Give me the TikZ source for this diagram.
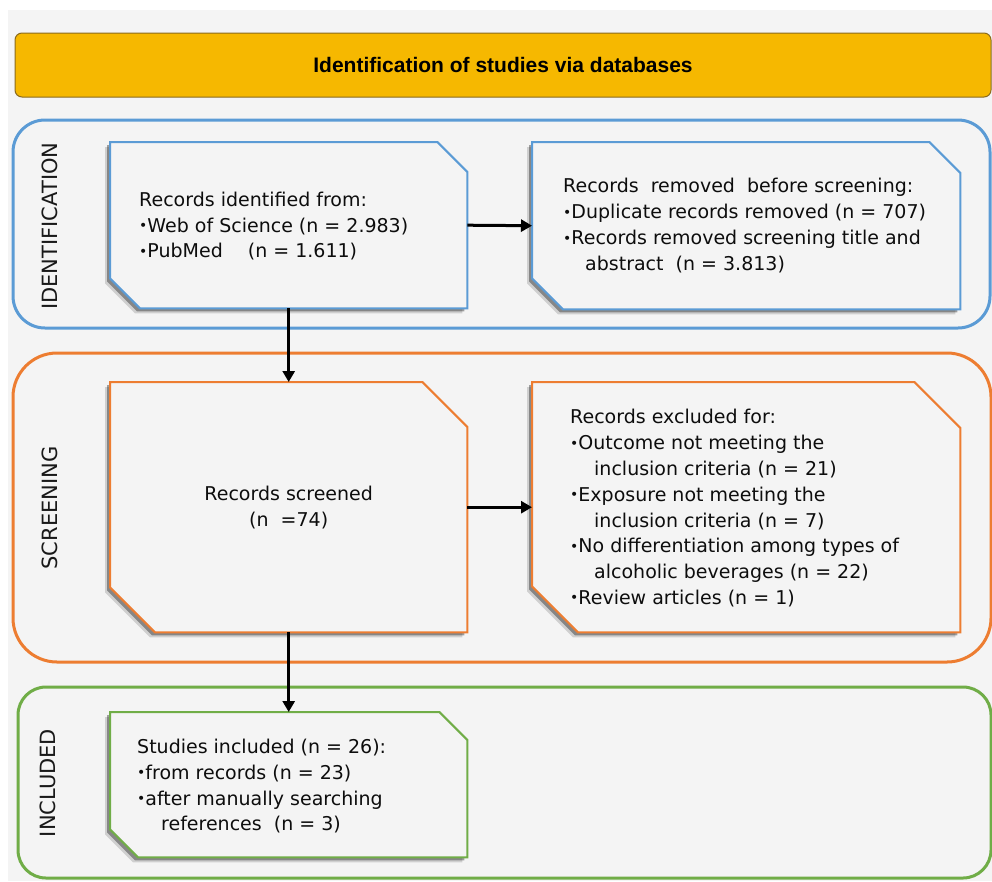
\documentclass[tikz,border=0pt]{standalone}
\usepackage{fontspec}
\setmainfont{DejaVu Sans}
\newfontfamily\titlefont{Liberation Sans}
\usetikzlibrary{arrows.meta}
\definecolor{bgray}{HTML}{F4F4F4}
\definecolor{cblue}{HTML}{5B9BD5}
\definecolor{corange}{HTML}{ED7D31}
\definecolor{cgreen}{HTML}{70AD47}
\definecolor{cyellow}{HTML}{F6B800}
\definecolor{cybord}{HTML}{8A6A1E}
\pgfdeclarelayer{bgA}\pgfdeclarelayer{bgB}\pgfsetlayers{bgA,bgB,main}
\newcommand\bl{{\fontsize{14}{14}\selectfont\raisebox{0.2ex}{•}}}
\newcommand\champ[4]{([xshift=#3pt,yshift=#4pt]#1.north west) -- ([xshift={#3pt-#2pt},yshift=#4pt]#1.north east) -- ([xshift=#3pt,yshift={#4pt-#2pt}]#1.north east) -- ([xshift=#3pt,yshift=#4pt]#1.south east) -- ([xshift={#3pt+#2pt},yshift=#4pt]#1.south west) -- ([xshift=#3pt,yshift={#4pt+#2pt}]#1.south west) -- cycle}
\newcommand\chambox[3]{%
  \begin{pgfonlayer}{bgB}
    \fill[black, opacity=0.15] \champ{#1}{#3}{-5}{-5};
    \fill[black, opacity=0.35] \champ{#1}{#3}{-3}{-3};
    \draw[#2, fill=bgray, line width=2pt] \champ{#1}{#3}{0}{0};
  \end{pgfonlayer}}
\tikzset{
  boxn/.style={rectangle, inner sep=0pt, draw=none, anchor=north west},
  txt/.style={align=left, inner sep=0pt, anchor=west, text=black!95, font=\fontsize{19}{25.8}\selectfont},
  phase/.style={rotate=90, inner sep=0pt, text=black!90, font=\fontsize{21}{21}\selectfont},
  arr/.style={line width=3pt, -{Triangle[length=11pt,width=12pt]}},
}
\begin{document}
\begin{tikzpicture}[x=1pt,y=-1pt]
\useasboundingbox (0,0) rectangle (992,881);
\begin{pgfonlayer}{bgA}
  \fill[bgray] (8,10) rectangle (992,881);
  \draw[cblue, line width=3pt, rounded corners=32pt] (13,120) rectangle (990,328);
  \draw[corange, line width=3pt, rounded corners=44pt] (13,353) rectangle (991,662);
  \draw[cgreen, line width=3pt, rounded corners=28pt] (18,687) rectangle (991,878);
\end{pgfonlayer}

\node[draw=cybord, line width=1pt, fill=cyellow, rounded corners=7pt, minimum width=976pt, minimum height=64pt, inner sep=0pt,
  font=\titlefont\bfseries\fontsize{21}{25}\selectfont] (title) at (503,65) {Identification of studies via databases};

\node[phase] (lid) at (50,226) {IDENTIFICATION};
\node[phase] (lsc) at (50,508) {SCREENING};
\node[phase] (lin) at (48,783) {INCLUDED};

% boxes
\node[boxn, minimum width=357pt, minimum height=166pt] (b1) at (110,142) {};
\node[boxn, minimum width=428pt, minimum height=167pt] (b2) at (532,142) {};
\node[boxn, minimum width=357pt, minimum height=250pt] (s1) at (110,382) {};
\node[boxn, minimum width=428pt, minimum height=250pt] (s2) at (532,382) {};
\node[boxn, minimum width=357pt, minimum height=145pt] (g1) at (110,712) {};
\chambox{b1}{cblue}{30}
\chambox{b2}{cblue}{31}
\chambox{s1}{corange}{45}
\chambox{s2}{corange}{46}
\chambox{g1}{cgreen}{28}

\node[txt] (b1t) at ([xshift=29pt,yshift=-1pt]b1.west) {Records identified from:\\
\bl Web of Science (n = 2.983)\\
\bl PubMed\quad\ (n = 1.611)};
\node[txt] (b2t) at ([xshift=31pt]b2.west) {Records\ \ removed\ \ before screening:\\
\bl Duplicate records removed (n = 707)\\
\bl Records removed screening title and\\
\hspace*{22pt}abstract\ \ (n = 3.813)};
\node[txt, align=center, anchor=center] (s1t) at (s1.center) {Records screened\\(n\ \ =74)};
\node[txt] (s2t) at ([xshift=38pt,yshift=-1pt]s2.west) {Records excluded for:\\
\bl Outcome not meeting the\\
\hspace*{24pt}inclusion criteria (n = 21)\\
\bl Exposure not meeting the\\
\hspace*{24pt}inclusion criteria (n = 7)\\
\bl No differentiation among types of\\
\hspace*{24pt}alcoholic beverages (n = 22)\\
\bl Review articles (n = 1)};
\node[txt] (g1t) at ([xshift=27pt,yshift=-1.5pt]g1.west) {Studies included (n = 26):\\
\bl from records (n = 23)\\
\bl after manually searching\\
\hspace*{24pt}references\ \ (n = 3)};

\draw[arr] (b1.east) -- (b2.west);
\draw[arr] (s1.east) -- (s2.west);
\draw[arr] (b1.south) -- (s1.north);
\draw[arr] (s1.south) -- (g1.north);
\end{tikzpicture}
\end{document}
